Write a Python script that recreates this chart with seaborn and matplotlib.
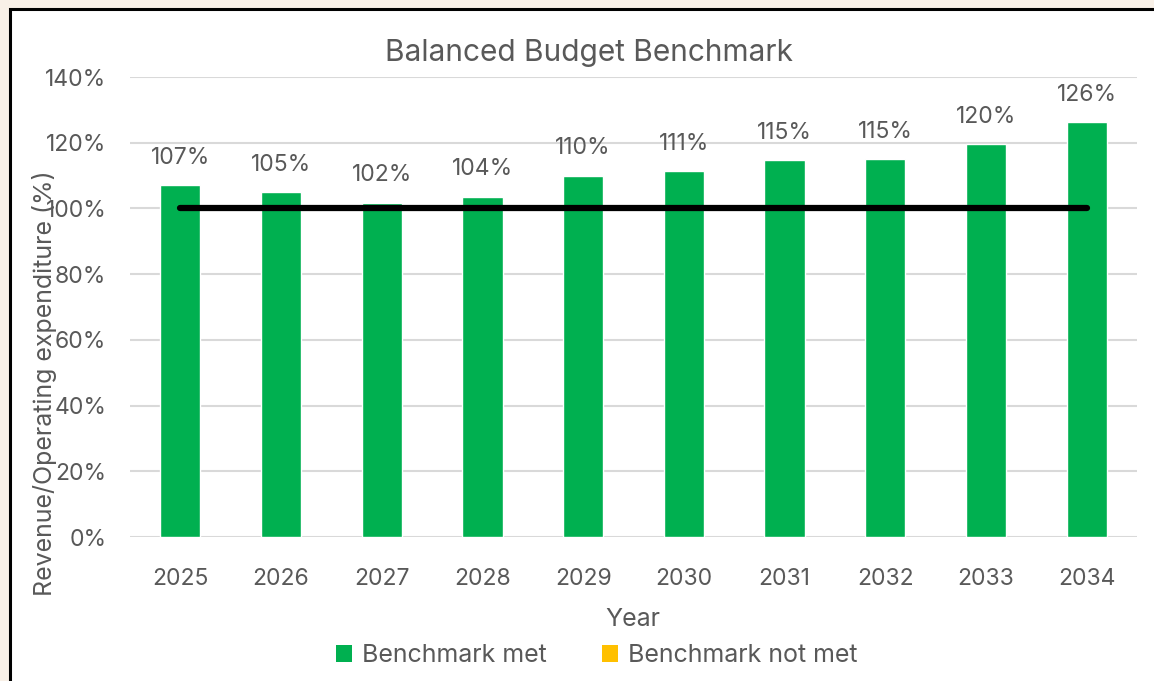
import matplotlib
matplotlib.use("Agg")
import matplotlib.pyplot as plt
import seaborn as sns
import numpy as np
import pandas as pd
from matplotlib.patches import Rectangle, Patch
from matplotlib.ticker import FuncFormatter

# data
years = ["2025", "2026", "2027", "2028", "2029", "2030", "2031", "2032", "2033", "2034"]
ratio = [107.1, 105.0, 101.7, 103.6, 109.9, 111.4, 114.7, 115.0, 119.6, 126.3]
benchmark = [100] * len(years)
legend_labels = ["Benchmark met", "Benchmark not met"]

GREEN = "#00B050"
YELLOW = "#FFC000"
GREY_TXT = "#595959"

sns.set_theme(style="white")
plt.rcParams["font.family"] = ["Inter", "DejaVu Sans"]

df = pd.DataFrame({"Year": years, "Ratio": ratio, "Bench": benchmark})

fig = plt.figure(figsize=(11.54, 6.81), dpi=100, facecolor="#F8F0E7")
# white card with black frame (behind everything)
fig.patches.append(Rectangle((10 / 1154, -0.05), 1.2, 1 - 9 / 681 + 0.05,
                             transform=fig.transFigure, facecolor="white",
                             edgecolor="black", linewidth=2.2, zorder=-10))

ax = fig.add_axes([130 / 1154, 1 - 537 / 681, 1007 / 1154, 460 / 681])
ax.set_facecolor("none")

sns.barplot(data=df, x="Year", y="Ratio", color=GREEN, width=0.4,
            saturation=1, ax=ax, zorder=3)
ax.plot(np.arange(len(years)), df["Bench"], color="black", linewidth=4.5,
        solid_capstyle="round", zorder=4)

for i, v in enumerate(ratio):
    ax.text(i, v + 5, f"{v:.0f}%", ha="center", va="bottom",
            fontsize=16.5, color=GREY_TXT)

ax.set_ylim(0, 140)
ax.set_xlim(-0.5, len(years) - 0.5)
ax.set_yticks(np.arange(0, 141, 20))
ax.yaxis.set_major_formatter(FuncFormatter(lambda v, p: f"{v:.0f}%"))
ax.grid(axis="y", color="#D9D9D9", linewidth=1.5, zorder=0)
ax.set_axisbelow(True)
for s in ax.spines.values():
    s.set_visible(False)
ax.tick_params(axis="both", length=0, labelsize=16.5, colors=GREY_TXT)
ax.tick_params(axis="y", pad=17)
ax.tick_params(axis="x", pad=22)
ax.set_xlabel("")
ax.set_ylabel("")

fig.text(589 / 1154, 1 - 53 / 681, "Balanced Budget Benchmark", ha="center",
         va="center", fontsize=21.5, color=GREY_TXT)
fig.text(633 / 1154, 1 - 620 / 681, "Year", ha="center", va="center",
         fontsize=18, color=GREY_TXT)
fig.text(45 / 1154, 1 - 383 / 681, "Revenue/Operating expenditure (%)",
         ha="center", va="center", rotation=90, fontsize=18, color=GREY_TXT)

handles = [Patch(facecolor=GREEN, edgecolor="none"),
           Patch(facecolor=YELLOW, edgecolor="none")]
fig.legend(handles, legend_labels, loc="center", ncol=2,
           bbox_to_anchor=(597 / 1154, 1 - 656 / 681), frameon=False,
           fontsize=18, labelcolor=GREY_TXT, handlelength=0.65,
           handleheight=0.65, handletextpad=0.4, columnspacing=2.2)

fig.savefig("out.png", dpi=100, facecolor=fig.get_facecolor())
